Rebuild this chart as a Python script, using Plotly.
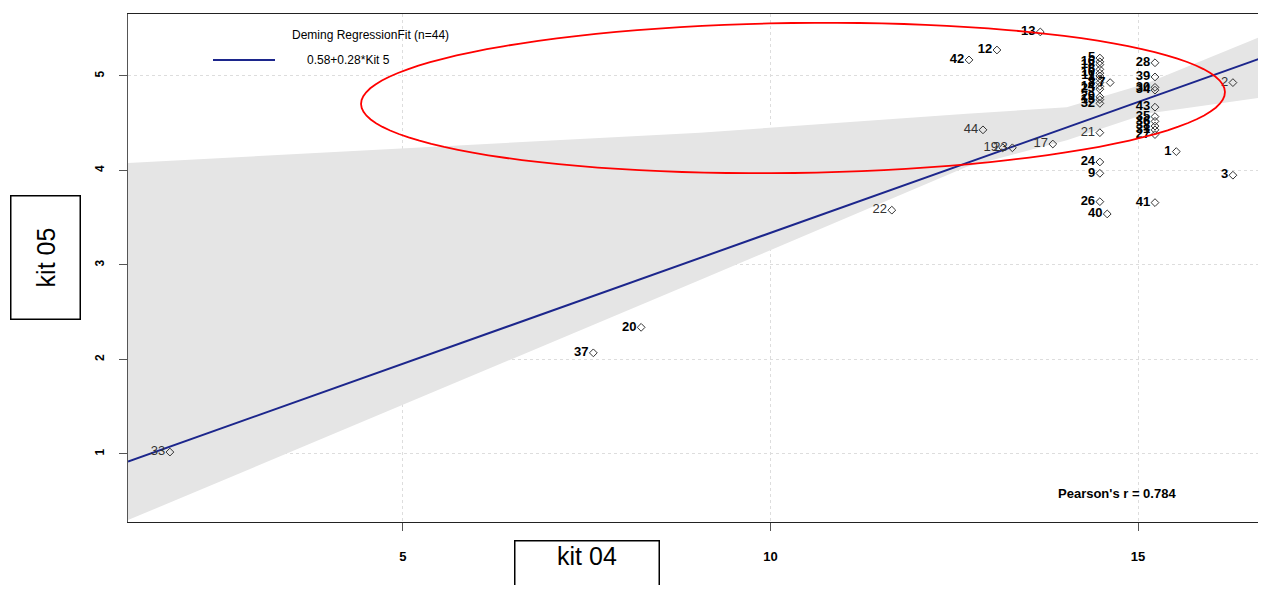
import numpy as np
import plotly.graph_objects as go

# ---- data ----
labels = [1, 2, 3, 4, 5, 6, 7, 8, 9, 10, 11, 12, 13, 14, 15, 16, 17, 18, 19, 20, 21, 22,
          23, 24, 25, 26, 27, 28, 29, 30, 31, 32, 33, 34, 35, 36, 37, 38, 39, 40, 41, 42, 43, 44]
kit04 = [15.52, 16.29, 16.29, 14.48, 14.48, 14.48, 14.62, 14.48, 14.48, 14.48, 14.48, 13.08,
         13.67, 14.48, 14.48, 14.48, 13.84, 14.48, 13.16, 8.24, 14.48, 11.65,
         13.29, 14.48, 14.48, 14.48, 15.23, 15.23, 14.48, 15.23, 15.23, 14.48, 1.83, 15.23,
         15.23, 15.23, 7.59, 15.23, 15.23, 14.58, 15.23, 12.70, 15.23, 12.89]
kit05 = [4.20, 4.93, 3.95, 4.97, 5.19, 5.07, 4.93, 4.93, 3.97, 5.03, 5.00, 5.275,
         5.466, 4.89, 4.75, 5.15, 4.28, 5.12, 4.24, 2.34, 4.40, 3.58,
         4.24, 4.09, 4.86, 3.67, 4.38, 5.14, 4.78, 4.88, 4.43, 4.71, 1.02, 4.85,
         4.57, 4.52, 2.07, 4.47, 4.99, 3.54, 3.66, 5.17, 4.67, 4.43]
plain_labels = [2, 17, 19, 21, 22, 23, 33, 44]

fit_intercept = 0.57
fit_slope = 0.277
band_x = [1.26, 6.86, 9.04, 12.67, 14.03, 15.11, 16.74]
band_upper = [4.08, 4.31, 4.40, 4.60, 4.67, 4.92, 5.44]
band_lower = [0.30, 2.13, 2.84, 4.04, 4.32, 4.60, 4.78]

x_ticks = [5, 10, 15]
y_ticks = [1, 2, 3, 4, 5]
x_range = [1.26, 16.74]
y_range = [0.28, 5.656]

legend_title = "Deming RegressionFit (n=44)"
legend_item = "0.58+0.28*Kit 5"
pearson_text = "Pearson's r = 0.784"
x_title = "kit 04"
y_title = "kit 05"

# ---- layout geometry (page pixels; page body has an 8px margin) ----
OFF = 8
W, H = 1266 - OFF, 593 - 2 * OFF
ML, MT = 128 - OFF, 14 - OFF
MB = (H + OFF) - 522
MR = 0
PW, PH = W - ML - MR, H - MT - MB


def px(xp):
    return (xp - OFF - ML) / PW


def py(yp):
    return (H - MB - (yp - OFF)) / PH


FONT = "Liberation Sans Narrow, Arial Narrow, Liberation Sans, Arial, sans-serif"
navy = "rgb(28,38,140)"

fig = go.Figure()

# confidence band
fig.add_trace(go.Scatter(
    x=band_x + band_x[::-1], y=band_upper + band_lower[::-1],
    fill="toself", fillcolor="rgb(229,229,229)", line=dict(width=0),
    mode="lines", hoverinfo="skip", showlegend=False))

# regression line
lx = np.array(x_range)
fig.add_trace(go.Scatter(
    x=lx, y=fit_intercept + fit_slope * lx, mode="lines",
    line=dict(color=navy, width=2), showlegend=False))

# points
texts = [str(l) if l in plain_labels else f"<b>{l}</b>" for l in labels]
tcolors = ["#333333" if l in plain_labels else "black" for l in labels]
fig.add_trace(go.Scatter(
    x=kit04, y=kit05, mode="markers+text", text=texts,
    textposition="middle left",
    textfont=dict(family=FONT, size=13, color=tcolors),
    marker=dict(symbol="diamond-open", size=6, color="#333333",
                line=dict(width=1)),
    showlegend=False))

# red ellipse (rotated, pixel space)
cx, cy, a, b, ang = 793, 98, 432, 75, np.deg2rad(-0.8)
t = np.linspace(0, 2 * np.pi, 121)
ex = cx + a * np.cos(t) * np.cos(ang) - b * np.sin(t) * np.sin(ang)
ey = cy + a * np.cos(t) * np.sin(ang) + b * np.sin(t) * np.cos(ang)
path = "M " + " L ".join(f"{px(u):.5f},{py(v):.5f}" for u, v in zip(ex, ey)) + " Z"

shapes = [
    dict(type="path", path=path, xref="paper", yref="paper",
         line=dict(color="red", width=1.8)),
    dict(type="line", xref="paper", yref="paper", x0=px(213), x1=px(275),
         y0=py(60), y1=py(60), line=dict(color=navy, width=2)),
]

annotations = [
    dict(text=legend_title, xref="paper", yref="paper", x=px(290), y=py(35),
         xanchor="left", yanchor="middle", showarrow=False,
         font=dict(family=FONT, size=12, color="black")),
    dict(text=legend_item, xref="paper", yref="paper", x=px(305), y=py(60),
         xanchor="left", yanchor="middle", showarrow=False,
         font=dict(family=FONT, size=12, color="black")),
    dict(text=f"<b>{pearson_text}</b>", xref="paper", yref="paper", x=px(1117), y=py(493),
         xanchor="center", yanchor="middle", showarrow=False,
         font=dict(family=FONT, size=13, color="black")),
    dict(text=x_title, xref="paper", yref="paper", x=px(587), y=py(540),
         xanchor="center", yanchor="top", showarrow=False,
         font=dict(family="Liberation Sans, Arial, sans-serif", size=25, color="black"),
         bordercolor="black", borderwidth=1.5, borderpad=0, width=143, height=62,
         valign="top"),
    dict(text=y_title, xref="paper", yref="paper", x=px(45), y=py(258),
         xanchor="center", yanchor="middle", showarrow=False, textangle=-90,
         font=dict(family="Liberation Sans, Arial, sans-serif", size=25, color="black"),
         bordercolor="black", borderwidth=1.5, borderpad=0, width=122, height=68),
]

fig.update_layout(
    width=W, height=H, margin=dict(l=ML, r=MR, t=MT, b=MB, autoexpand=False),
    plot_bgcolor="white", paper_bgcolor="white",
    shapes=shapes, annotations=annotations, showlegend=False,
    xaxis=dict(range=x_range, tickvals=x_ticks, ticktext=[f"<b>{v}</b>" for v in x_ticks],
               showline=True, linecolor="#222222", linewidth=1.2, mirror=True,
               ticks="outside", ticklen=8, tickcolor="#555555",
               showgrid=True, gridcolor="#dddddd", griddash="dot", gridwidth=1,
               zeroline=False, ticklabelstandoff=14,
               tickfont=dict(family=FONT, size=13, color="black")),
    yaxis=dict(range=y_range, tickvals=y_ticks, ticktext=[f"<b>{v}</b>" for v in y_ticks],
               showline=True, linecolor="#555555", linewidth=1.2, mirror=False,
               ticks="outside", ticklen=8, tickcolor="#555555", tickangle=-90,
               showgrid=True, gridcolor="#dddddd", griddash="dot", gridwidth=1,
               zeroline=False, ticklabelstandoff=10,
               tickfont=dict(family=FONT, size=12, color="black")),
)

fig.write_html("out.html")
